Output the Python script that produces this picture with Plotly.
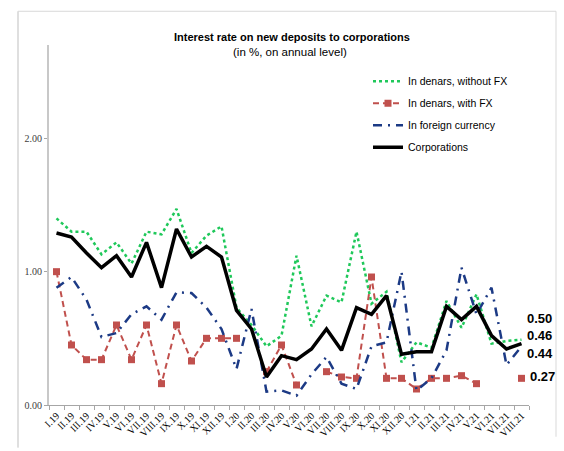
import plotly.graph_objects as go

months = ["I.19", "II.19", "III.19", "IV.19", "V.19", "VI.19", "VII.19", "VIII.19", "IX.19", "X.19", "XI.19", "XII.19",
          "I.20", "II.20", "III.20", "IV.20", "V.20", "VI.20", "VII.20", "VIII.20", "IX.20", "X.20", "XI.20", "XII.20",
          "I.21", "II.21", "III.21", "IV.21", "V.21", "VI.21", "VII.21", "VIII.21"]

denars_no_fx = [1.40, 1.30, 1.30, 1.13, 1.22, 1.06, 1.30, 1.28, 1.47, 1.14, 1.27, 1.34,
                0.73, 0.60, 0.44, 0.52, 1.12, 0.59, 0.82, 0.77, 1.30, 0.76, 0.85, 0.32,
                0.47, 0.43, 0.78, 0.58, 0.83, 0.46, 0.48, 0.49]
denars_fx = [1.00, 0.45, 0.34, 0.34, 0.60, 0.34, 0.60, 0.16, 0.60, 0.33, 0.50, 0.50,
             0.50, None, 0.25, 0.45, 0.15, None, 0.25, 0.21, 0.20, 0.96, 0.20, 0.20,
             0.12, 0.20, 0.20, 0.22, 0.16, None, None, 0.20]
foreign = [0.88, 0.96, 0.79, 0.51, 0.54, 0.68, 0.74, 0.64, 0.845, 0.84, 0.73, 0.57,
           0.27, 0.72, 0.10, 0.11, 0.07, 0.23, 0.36, 0.16, 0.12, 0.44, 0.47, 1.00,
           0.11, 0.20, 0.41, 1.03, 0.68, 0.88, 0.30, 0.44]
corporations = [1.29, 1.26, 1.14, 1.03, 1.12, 0.96, 1.22, 0.88, 1.32, 1.11, 1.19, 1.11,
                0.71, 0.57, 0.21, 0.37, 0.34, 0.42, 0.57, 0.41, 0.73, 0.68, 0.82, 0.38,
                0.40, 0.40, 0.74, 0.64, 0.74, 0.52, 0.42, 0.46]

end_labels = ["0.50", "0.46", "0.44", "0.27"]
end_label_y = [0.65, 0.52, 0.385, 0.215]

W, H = 564, 451
L, R, T, B = 49, 35, 45, 43
pw, ph = W - L - R, H - T - B


def px_x(p):
    return (p - L) / pw


def px_y(p):
    return (H - B - p) / ph


FONT = "Liberation Sans"

fig = go.Figure()
fig.add_trace(go.Scatter(x=months, y=denars_no_fx, mode="lines", name="In denars, without FX",
                         line=dict(color="#1fc85a", width=2.5, dash="dot"), legendgroup="a"))
fig.add_trace(go.Scatter(x=months, y=denars_fx, mode="lines+markers", name="In denars, with FX",
                         line=dict(color="#c0504d", width=2, dash="6px,4px"),
                         marker=dict(symbol="square", size=7, color="#c0504d"),
                         connectgaps=False, legendgroup="b"))
fig.add_trace(go.Scatter(x=months, y=foreign, mode="lines", name="In foreign currency",
                         line=dict(color="#1c3a85", width=2.5, dash="9px,6px,2px,6px"), legendgroup="c"))
fig.add_trace(go.Scatter(x=months, y=corporations, mode="lines", name="Corporations",
                         line=dict(color="black", width=3.5), legendgroup="d"))

annotations = [
    dict(text="<b>Interest rate on new deposits to corporations</b>", x=px_x(292), y=px_y(37),
         xref="paper", yref="paper", showarrow=False, xanchor="center", yanchor="middle",
         font=dict(family=FONT, size=11, color="black")),
    dict(text="(in %, on annual level)", x=px_x(290), y=px_y(52),
         xref="paper", yref="paper", showarrow=False, xanchor="center", yanchor="middle",
         font=dict(family=FONT, size=11.5, color="black")),
]
for txt, yv in zip(end_labels, end_label_y):
    annotations.append(dict(text="<b>" + txt + "</b>", x=31.25 if txt != end_labels[-1] else 31.4,
                            y=yv, xref="x", yref="y", showarrow=False,
                            xanchor="left", yanchor="middle",
                            font=dict(family=FONT, size=13, color="black")))

shapes = [
    dict(type="line", xref="paper", yref="paper", x0=px_x(18), x1=px_x(18), y0=px_y(451), y1=px_y(11),
         line=dict(color="#bfbfbf", width=1)),
    dict(type="line", xref="paper", yref="paper", x0=px_x(18), x1=px_x(556), y0=px_y(11), y1=px_y(11),
         line=dict(color="#d9d9d9", width=1)),
    dict(type="line", xref="paper", yref="paper", x0=px_x(556), x1=px_x(556), y0=px_y(440), y1=px_y(11),
         line=dict(color="#d9d9d9", width=1)),
]

fig.update_layout(
    width=W, height=H,
    margin=dict(l=L, r=R, t=T, b=B),
    paper_bgcolor="white", plot_bgcolor="white",
    showlegend=True,
    legend=dict(x=px_x(368), y=px_y(67), xanchor="left", yanchor="top",
                bgcolor="rgba(0,0,0,0)", tracegroupgap=3, itemwidth=30,
                font=dict(family=FONT, size=10.5, color="black")),
    annotations=annotations,
    shapes=shapes,
    xaxis=dict(type="category", tickson="boundaries", ticks="outside", ticklen=4, tickcolor="#a6a6a6",
               showline=True, linecolor="#a6a6a6", linewidth=1, showgrid=False, tickangle=-45,
               tickfont=dict(family="Liberation Serif", size=10, color="black"),
               range=[-0.5, 31.5]),
    yaxis=dict(range=[0, 2.7], tickvals=[0, 1, 2], ticktext=["0.00", "1.00", "2.00"],
               ticks="outside", ticklen=3, tickcolor="#a6a6a6",
               showline=True, linecolor="#c8c8c8", linewidth=2, showgrid=False, zeroline=False,
               tickfont=dict(family="Liberation Serif", size=10, color="#404040")),
)

fig.write_html("out.html")
